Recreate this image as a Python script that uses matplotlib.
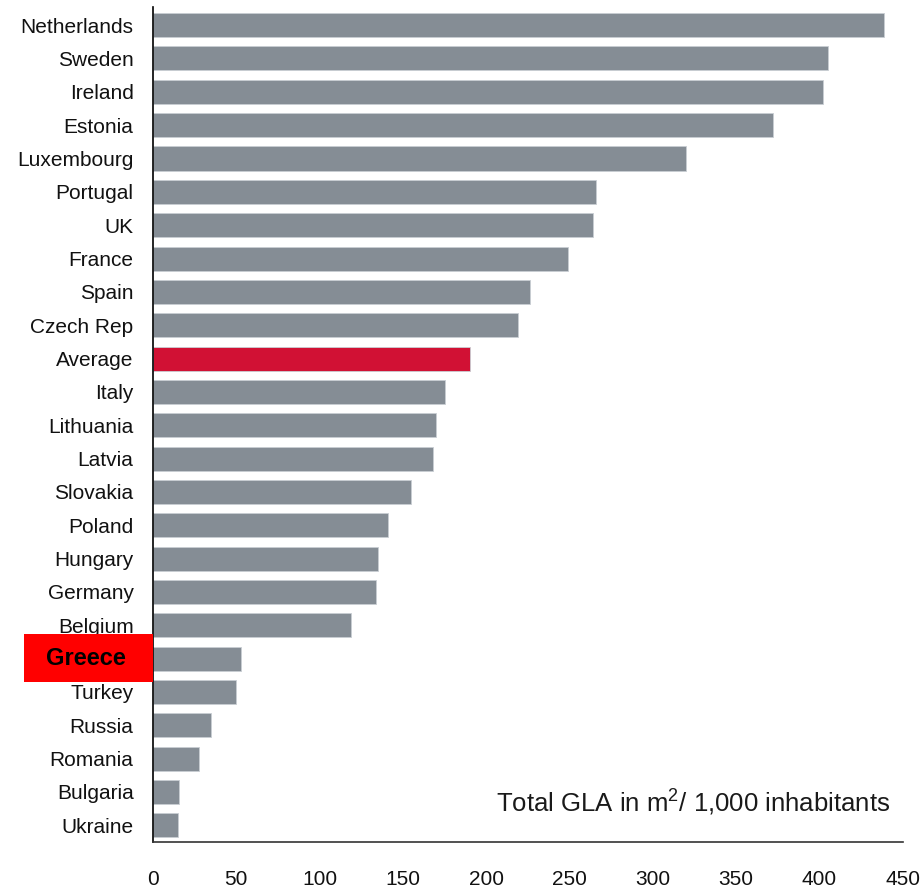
import numpy as np
import matplotlib.pyplot as plt
from matplotlib.patches import Rectangle
from matplotlib.transforms import blended_transform_factory

plt.rcParams['font.family'] = ['Liberation Sans', 'DejaVu Sans']
plt.rcParams['mathtext.fontset'] = 'custom'
plt.rcParams['mathtext.rm'] = 'Liberation Sans'
plt.rcParams['mathtext.it'] = 'Liberation Sans:italic'

countries = ['Netherlands', 'Sweden', 'Ireland', 'Estonia', 'Luxembourg', 'Portugal',
             'UK', 'France', 'Spain', 'Czech Rep', 'Average', 'Italy', 'Lithuania',
             'Latvia', 'Slovakia', 'Poland', 'Hungary', 'Germany', 'Belgium', 'Greece',
             'Turkey', 'Russia', 'Romania', 'Bulgaria', 'Ukraine']
gla = [439, 405, 402, 372, 320, 266, 264, 249, 226, 219, 190, 175, 170,
       168, 155, 141, 135, 134, 119, 53, 50, 35, 27.5, 15.5, 15]
xticks = [0, 50, 100, 150, 200, 250, 300, 350, 400, 450]

grey = '#858d95'
avg_red = '#d11134'

colors = [avg_red if c == 'Average' else grey for c in countries]
ypos = np.arange(len(countries))

fig = plt.figure(figsize=(9.23, 8.91), dpi=100)
ax = fig.add_axes([0.1658, 0.055, 0.978 - 0.1658, 0.992 - 0.055])

ax.barh(ypos, gla, height=0.72, color=colors, edgecolor='#c9ced3', linewidth=0.6)

ax.set_ylim(len(countries) - 0.5, -0.54)
ax.set_xlim(0, 450)
ax.set_yticks(ypos)
ax.set_yticklabels(['' if c == 'Greece' else c for c in countries], fontsize=15,
                   color='#111111')
ax.set_xticks(xticks)
ax.set_xticklabels([str(v) for v in xticks], fontsize=15, color='#111111')
ax.tick_params(axis='y', length=0, pad=14)
ax.tick_params(axis='x', length=0, pad=20)

for s in ['top', 'right']:
    ax.spines[s].set_visible(False)
ax.spines['left'].set_color('black')
ax.spines['bottom'].set_color('#333333')
ax.spines['left'].set_linewidth(1.2)
ax.spines['bottom'].set_linewidth(1.2)

# highlighted label box for Greece
gi = countries.index('Greece')
trans = blended_transform_factory(ax.transAxes, ax.transData)
ax.add_patch(Rectangle((-0.172, gi - 0.75), 0.172, 1.44, transform=trans,
                       facecolor='#ff0000', edgecolor='none', clip_on=False, zorder=3))
ax.text(-0.089, gi, 'Greece', transform=trans, ha='center', va='center',
        fontsize=17, fontweight='bold', color='black', zorder=4)

ax.text(0.983, 0.047, r'Total GLA in m$^{\mathrm{2}}$/ 1,000 inhabitants',
        transform=ax.transAxes, ha='right', va='center', fontsize=18.5, color='#1a1a1a')

fig.savefig('out.png', dpi=100)
